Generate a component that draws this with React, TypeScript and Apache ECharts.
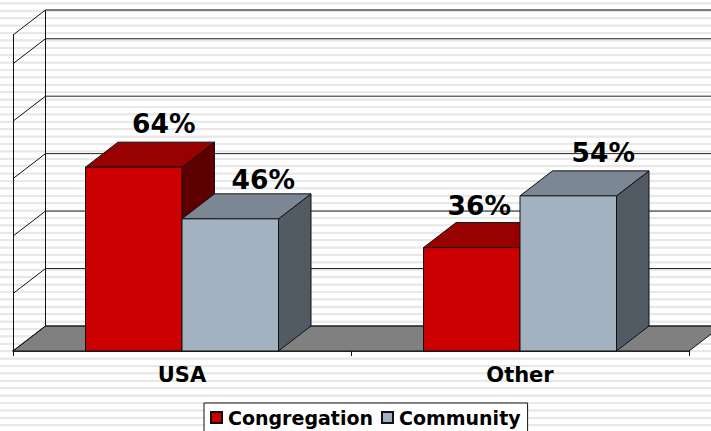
import React, { useEffect, useRef } from "react";
import * as echarts from "echarts";

const categories = ["USA", "Other"];
const seriesNames = ["Congregation", "Community"];
const congregation = [64, 36];
const community = [46, 54];
const gridTicks = [0, 20, 40, 60, 80, 100, 110];

const FONT = '"DejaVu Sans", Verdana, sans-serif';
const DX = 32.5;
const DY = -25;
const BAR_W = 96.5;
const palettes = [
  { front: "#cc0000", top: "#990000", side: "#5f0000" },
  { front: "#a2b2c1", top: "#7b8894", side: "#525a63" },
];
// hand-placed label shifts, keyed series-category: [dx, dy]
const labelNudge: Record<string, number[]> = {
  "0-0": [-2.5, -1],
  "0-1": [-25, 1],
  "1-0": [0.5, 4],
  "1-1": [2.5, 0],
};

function wallItem(params: any, api: any) {
  const v = api.value(0);
  const p = api.coord([0, v]);
  const cs = params.coordSys;
  const x0 = cs.x;
  const x1 = 711 + 20;
  const children: any[] = [
    {
      type: "line",
      shape: { x1: x0, y1: p[1], x2: x0 + DX, y2: p[1] + DY },
      style: { stroke: "#111", lineWidth: 1, fill: "none" },
    },
    {
      type: "line",
      shape: { x1: x0 + DX, y1: p[1] + DY, x2: x1, y2: p[1] + DY },
      style: { stroke: v === 110 ? "#555" : "#222", lineWidth: v === 110 ? 1.5 : 1, fill: "none" },
    },
  ];
  if (v === 0) {
    const xr = cs.x + cs.width;
    const top = api.coord([0, 110])[1];
    children.unshift({
      type: "polygon",
      shape: {
        points: [
          [x0, p[1]],
          [x0 + DX, p[1] + DY],
          [xr + DX, p[1] + DY],
          [xr, p[1]],
        ],
      },
      style: { fill: "#808080", stroke: "#111", lineWidth: 1 },
    });
    children.push({
      type: "line",
      shape: { x1: x0 + DX, y1: top + DY, x2: x0 + DX, y2: p[1] + DY },
      style: { stroke: "#111", lineWidth: 1, fill: "none" },
    });
  }
  return { type: "group", children };
}

function barItem(seriesIdx: number) {
  const pal = palettes[seriesIdx];
  return (params: any, api: any) => {
    const cat = api.value(0);
    const val = api.value(1);
    const base = api.coord([cat, 0]);
    const topPt = api.coord([cat, val]);
    const xl = seriesIdx === 0 ? base[0] - BAR_W : base[0];
    const xr = xl + BAR_W;
    const yt = topPt[1];
    const yb = base[1];
    const stroke = { stroke: "#111", lineWidth: 1 };
    return {
      type: "group",
      children: [
        {
          type: "polygon",
          shape: { points: [[xr, yb], [xr + DX, yb + DY], [xr + DX, yt + DY], [xr, yt]] },
          style: { fill: pal.side, ...stroke },
        },
        {
          type: "polygon",
          shape: { points: [[xl, yt], [xl + DX, yt + DY], [xr + DX, yt + DY], [xr, yt]] },
          style: { fill: pal.top, ...stroke },
        },
        {
          type: "rect",
          shape: { x: xl, y: yt, width: BAR_W, height: yb - yt },
          style: { fill: pal.front, ...stroke },
        },
      ],
    };
  };
}

function labelItem(seriesIdx: number) {
  return (params: any, api: any) => {
    const cat = api.value(0);
    const val = api.value(1);
    const base = api.coord([cat, 0]);
    const topPt = api.coord([cat, val]);
    const xl = seriesIdx === 0 ? base[0] - BAR_W : base[0];
    const nudge = labelNudge[`${seriesIdx}-${cat}`];
    return {
      type: "text",
      x: xl + BAR_W / 2 + DX + nudge[0],
      y: topPt[1] + DY - 18 + nudge[1],
      style: {
        text: `${val}%`,
        font: `bold 26.5px ${FONT}`,
        fill: "#000",
        align: "center",
        verticalAlign: "middle",
      },
    };
  };
}

export default function App() {
  const ref = useRef<HTMLDivElement>(null);
  useEffect(() => {
    document.body.style.margin = "0";
    const chart = echarts.init(ref.current!, null, { renderer: "svg" });
    const valuesOf = (i: number) => (i === 0 ? congregation : community).map((v, c) => [c, v]);
    chart.setOption({
      animation: false,
      grid: { left: 13, right: 22, top: 35, bottom: 80 },
      xAxis: {
        type: "category",
        data: categories,
        axisLine: { show: true, lineStyle: { color: "#000", width: 1.5 } },
        axisTick: { show: true, length: 5, alignWithLabel: false, lineStyle: { color: "#111" } },
        axisLabel: { fontFamily: FONT, fontWeight: "bold", fontSize: 21, color: "#000", margin: 13 },
      },
      yAxis: {
        type: "value",
        min: 0,
        max: 110,
        interval: 20,
        axisLine: { show: true, lineStyle: { color: "#111" } },
        axisTick: { show: false },
        axisLabel: { show: false },
        splitLine: { show: false },
      },
      legend: {
        data: seriesNames.map((name) => ({ name, icon: "rect" })),
        left: 204,
        top: 403,
        orient: "horizontal",
        backgroundColor: "#fff",
        borderColor: "#111",
        borderWidth: 1,
        padding: [5, 7, 12, 6],
        itemGap: 8,
        itemWidth: 11,
        itemHeight: 11,
        textStyle: { fontFamily: FONT, fontWeight: "bold", fontSize: 19, color: "#000", padding: [0, 0, 0, 1] },
      },
      series: [
        {
          type: "custom",
          name: "walls",
          silent: true,
          clip: false,
          z: 1,
          renderItem: wallItem,
          data: gridTicks.map((v) => [v]),
          encode: { y: 0 },
        },
        ...seriesNames.map((name, i) => ({
          type: "custom",
          name,
          clip: false,
          z: 5 + i,
          itemStyle: { color: palettes[i].front, borderColor: "#111", borderWidth: 1 },
          renderItem: barItem(i),
          data: valuesOf(i),
          encode: { x: 0, y: 1 },
        })),
        ...seriesNames.map((name, i) => ({
          type: "custom",
          name: `${name} labels`,
          silent: true,
          clip: false,
          z: 10,
          renderItem: labelItem(i),
          data: valuesOf(i),
          encode: { x: 0, y: 1 },
        })),
      ],
    });
    return () => chart.dispose();
  }, []);
  return (
    <div
      style={{
        position: "fixed",
        left: 0,
        top: 0,
        width: 711,
        height: 431,
        overflow: "hidden",
        background:
          "repeating-linear-gradient(to bottom, #fff 0px, #fff 2px, #e8e8e8 2.6px, #e8e8e8 4.2px, #fff 4.8px, #fff 7.4px)",
      }}
    >
      <div ref={ref} style={{ width: 711, height: 431 }} />
    </div>
  );
}
